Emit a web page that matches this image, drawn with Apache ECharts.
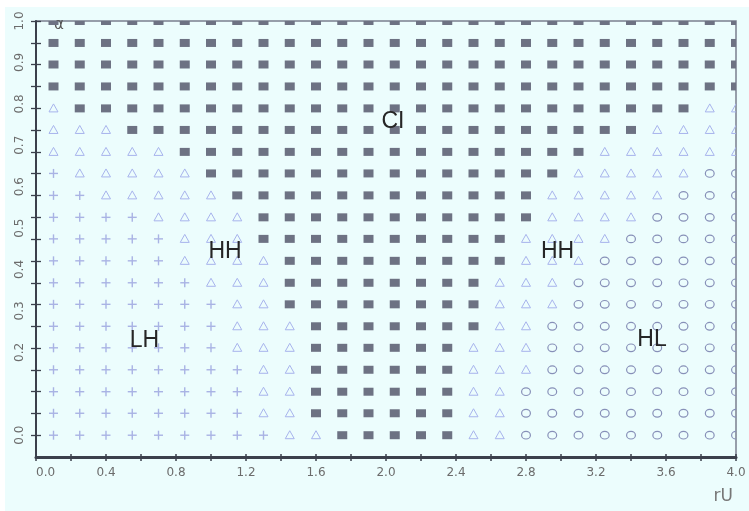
<!DOCTYPE html>
<html><head><meta charset="utf-8">
<script src="https://cdn.jsdelivr.net/npm/echarts@6/dist/echarts.min.js"></script>
<style>
html,body{margin:0;padding:0;background:#fff;width:749px;height:511px;overflow:hidden}
#c{position:absolute;left:5px;top:7px;width:744px;height:504px;background:#ecfdfd}
</style></head><body><div id="c"></div>
<script>
// ---- data ----
const xValues = [0.10,0.25,0.40,0.55,0.70,0.85,1.00,1.15,1.30,1.45,1.60,1.75,1.90,2.05,2.20,2.35,2.50,2.65,2.80,2.95,3.10,3.25,3.40,3.55,3.70,3.85,4.00];
const yValues = [0.000,0.053,0.105,0.158,0.211,0.263,0.316,0.368,0.421,0.474,0.526,0.579,0.632,0.684,0.737,0.789,0.842,0.895,0.947,1.000];
// phase per row (bottom to top), run-length: P = LH (+), T = HH (triangle), S = CI (square), O = HL (circle)
const phaseRuns = [
  "P9 T2 S5 T2 O9",
  "P8 T2 S6 T2 O9",
  "P8 T2 S6 T2 O9",
  "P8 T2 S6 T3 O8",
  "P7 T3 S6 T3 O8",
  "P7 T3 S7 T2 O8",
  "P7 T2 S8 T3 O7",
  "P6 T3 S8 T3 O7",
  "P5 T4 S9 T3 O6",
  "P5 T3 S10 T4 O5",
  "P4 T4 S11 T4 O4",
  "P2 T5 S12 T5 O3",
  "P1 T5 S14 T5 O2",
  "T5 S16 T6",
  "T3 S20 T4",
  "T1 S24 T2",
  "S27",
  "S27",
  "S27",
  "S27"
];
const regionNames = ["CI","HH","HH","LH","HL"];
const regionX = [2.04,1.08,2.98,0.62,3.52];
const regionY = [0.757,0.443,0.443,0.229,0.231];
const xTickValues = [0,0.2,0.4,0.6,0.8,1.0,1.2,1.4,1.6,1.8,2.0,2.2,2.4,2.6,2.8,3.0,3.2,3.4,3.6,3.8,4.0];
const xLabelValues = [0,0.4,0.8,1.2,1.6,2.0,2.4,2.8,3.2,3.6,4.0];
const yLabelValues = [0,0.2,0.3,0.4,0.5,0.6,0.7,0.8,0.9,1.0];
const xName = "rU";
const yName = "α";

// ---- build point lists per phase ----
const pts = {P:[],T:[],S:[],O:[]};
phaseRuns.forEach((row, i) => {
  let k = 0;
  row.split(" ").forEach(tok => {
    const code = tok[0], n = parseInt(tok.slice(1), 10);
    for (let j = 0; j < n; j++) { pts[code].push([xValues[k], yValues[i]]); k++; }
  });
});

const SQ = '#6d7283', TRI = '#a7b3ec', PLUS = '#a9b3e4', CIRC = '#8790b8';

function renderSquare(params, api) {
  const p = api.coord([api.value(0), api.value(1)]);
  return {type:'rect', shape:{x:p[0]-5, y:p[1]-4, width:10, height:8}, style:{fill:SQ}};
}
function renderTri(params, api) {
  const p = api.coord([api.value(0), api.value(1)]);
  return {type:'polygon', shape:{points:[[p[0],p[1]-4.5],[p[0]-4.5,p[1]+3.5],[p[0]+4.5,p[1]+3.5]]},
          style:{fill:'none', stroke:TRI, lineWidth:1}};
}
function renderPlus(params, api) {
  const p = api.coord([api.value(0), api.value(1)]);
  return {type:'group', children:[
    {type:'line', shape:{x1:p[0]-4.5,y1:p[1],x2:p[0]+4.5,y2:p[1]}, style:{stroke:PLUS,lineWidth:1.4}},
    {type:'line', shape:{x1:p[0],y1:p[1]-4.5,x2:p[0],y2:p[1]+4.5}, style:{stroke:PLUS,lineWidth:1.4}}
  ]};
}
function renderCirc(params, api) {
  const p = api.coord([api.value(0), api.value(1)]);
  return {type:'ellipse', shape:{cx:p[0], cy:p[1], rx:4.4, ry:3.8}, style:{fill:'none', stroke:CIRC, lineWidth:1.2}};
}
function renderText(params, api) {
  const p = api.coord([api.value(0), api.value(1)]);
  return {type:'text', x:p[0], y:p[1], style:{text:regionNames[params.dataIndex], align:'center', verticalAlign:'middle',
          fontSize:23, fontFamily:'Liberation Sans, Arial, sans-serif', fill:'#262626'}};
}

const axisDark = '#3b404c';
const fmt = v => Number(v).toFixed(1);

const option = {
  animation: false,
  grid: {left:31, top:14, right:13, bottom:54, show:true, borderColor:'#7a7f8e', borderWidth:1.5, backgroundColor:'transparent'},
  xAxis: [{
    type:'value', min:0, max:4, position:'bottom',
    axisLine:{show:true, onZero:false, lineStyle:{color:axisDark, width:3}},
    axisTick:{show:true, inside:false, length:4, customValues:xTickValues, lineStyle:{color:axisDark, width:1.5}},
    axisLabel:{customValues:xLabelValues, formatter:fmt, color:'#6c6c6c', fontSize:12, margin:10, alignMinLabel:'left',
               padding:[0,0,0,0], fontFamily:'DejaVu Sans, sans-serif'},
    splitLine:{show:false}
  },{
    type:'value', min:0, max:4, position:'bottom',
    axisLine:{show:false, onZero:false},
    axisTick:{show:true, inside:true, length:3, customValues:xTickValues, lineStyle:{color:axisDark, width:1.5}},
    axisLabel:{show:false}, splitLine:{show:false}
  }],
  yAxis: [{
    type:'value', min:-0.0526, max:1.0, position:'left',
    axisLine:{show:true, onZero:false, lineStyle:{color:axisDark, width:2}},
    axisTick:{show:true, inside:false, length:5, customValues:yValues, lineStyle:{color:axisDark, width:1.3}},
    axisLabel:{customValues:yLabelValues, formatter:fmt, rotate:90, color:'#6c6c6c', fontSize:12, margin:10,
               fontFamily:'DejaVu Sans, sans-serif'},
    splitLine:{show:false}
  },{
    type:'value', min:-0.0526, max:1.0, position:'left',
    axisLine:{show:false, onZero:false},
    axisTick:{show:true, inside:true, length:5, customValues:yValues, lineStyle:{color:axisDark, width:1.3}},
    axisLabel:{show:false}, splitLine:{show:false}
  }],
  graphic: [
    {type:'text', right:16, bottom:6, style:{text:xName, fontSize:17, fill:'#777', fontFamily:'DejaVu Sans, sans-serif'}},
    {type:'text', left:49, top:11, style:{text:yName, fontSize:15, fill:'#555', fontFamily:'DejaVu Sans, sans-serif'}}
  ],
  series: [
    {type:'custom', name:'LH', renderItem:renderPlus, data:pts.P, clip:true, xAxisIndex:0, yAxisIndex:0},
    {type:'custom', name:'HH', renderItem:renderTri, data:pts.T, clip:true, xAxisIndex:0, yAxisIndex:0},
    {type:'custom', name:'CI', renderItem:renderSquare, data:pts.S, clip:true, xAxisIndex:0, yAxisIndex:0},
    {type:'custom', name:'HL', renderItem:renderCirc, data:pts.O, clip:true, xAxisIndex:0, yAxisIndex:0},
    {type:'custom', name:'labels', renderItem:renderText, data:regionX.map((x,i)=>[x, regionY[i]]), clip:false, z:10}
  ]
};
const chart = echarts.init(document.getElementById('c'), null, {renderer:'canvas'});
chart.setOption(option);
</script></body></html>
